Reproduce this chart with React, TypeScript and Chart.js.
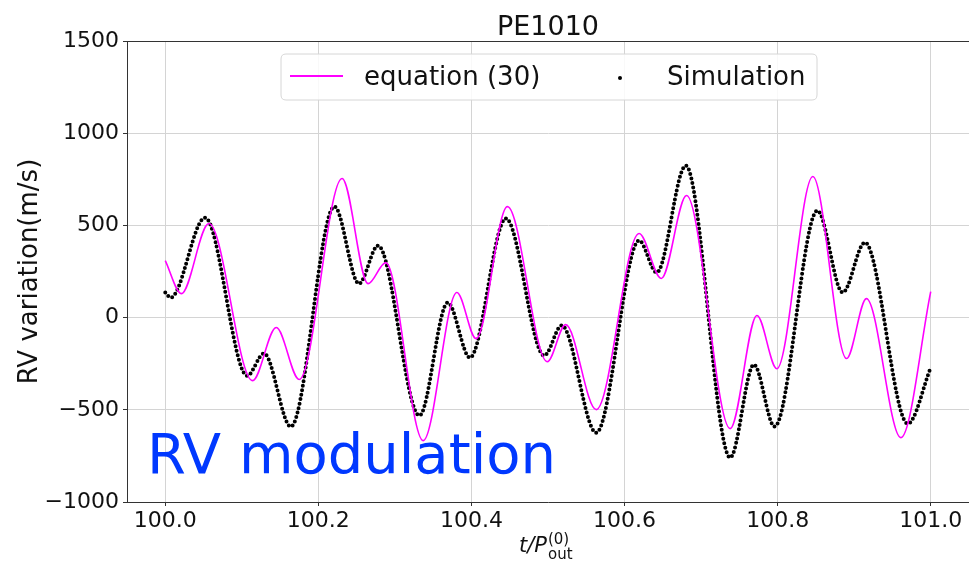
import React, { useEffect, useRef } from "react";
import { Chart, registerables } from "chart.js";

Chart.register(...registerables);

const TITLE = "PE1010";
const Y_LABEL = "RV variation(m/s)";
const OVERLAY_TEXT = "RV modulation";
const LEGEND_EQ = "equation (30)";
const LEGEND_SIM = "Simulation";

const xTicks = [100.0, 100.2, 100.4, 100.6, 100.8, 101.0];
const yTicks = [-1000, -500, 0, 500, 1000, 1500];

// Simulation (black dots): time in units of P_out, RV variation in m/s
const simT = [100.0, 100.007, 100.052, 100.107, 100.129, 100.164, 100.221, 100.253, 100.278, 100.332, 100.369, 100.398, 100.445, 100.495, 100.518, 100.563, 100.619, 100.642, 100.68, 100.738, 100.769, 100.796, 100.852, 100.885, 100.914, 100.97, 101.0];
const simRV = [136, 108, 542, -315, -195, -591, 602, 184, 390, -531, 81, -217, 537, -206, -43, -624, 418, 244, 824, -759, -255, -591, 580, 136, 407, -575, -271];

// Equation (30) (magenta line)
const eqT = [100.0, 100.021, 100.057, 100.114, 100.145, 100.175, 100.231, 100.265, 100.288, 100.337, 100.381, 100.406, 100.447, 100.499, 100.523, 100.563, 100.619, 100.648, 100.681, 100.738, 100.773, 100.799, 100.846, 100.89, 100.916, 100.961, 101.0];
const eqRV = [309, 130, 510, -342, -54, -336, 754, 184, 298, -667, 136, -114, 602, -239, -38, -499, 456, 212, 662, -602, 11, -277, 765, -222, 103, -651, 141];

const FONT = "'DejaVu Sans', sans-serif";

export default function App() {
  const ref = useRef<HTMLCanvasElement>(null);

  useEffect(() => {
    document.body.style.margin = "0";
    const canvas = ref.current!;
    const overlay = {
      id: "overlay",
      afterDraw(chart: any) {
        const ctx = chart.ctx as CanvasRenderingContext2D;
        const a = chart.chartArea;
        ctx.save();
        // top spine
        ctx.strokeStyle = "#333";
        ctx.lineWidth = 1;
        ctx.beginPath();
        ctx.moveTo(a.left, a.top + 0.5);
        ctx.lineTo(a.right, a.top + 0.5);
        ctx.stroke();

        // title
        ctx.fillStyle = "#111";
        ctx.font = `27px ${FONT}`;
        ctx.textAlign = "center";
        ctx.textBaseline = "alphabetic";
        ctx.fillText(TITLE, (a.left + a.right) / 2, 35);

        // y label
        ctx.save();
        ctx.translate(37, (a.top + a.bottom) / 2);
        ctx.rotate(-Math.PI / 2);
        ctx.font = `26px ${FONT}`;
        ctx.textAlign = "center";
        ctx.fillText(Y_LABEL, 0, 0);
        ctx.restore();

        // x label: t/P_out^(0)
        ctx.textAlign = "left";
        ctx.font = `italic 21px ${FONT}`;
        ctx.fillText("t/P", 519, 552);
        const w = ctx.measureText("t/P").width;
        ctx.font = `15px ${FONT}`;
        ctx.fillText("(0)", 519 + w + 1, 544);
        ctx.fillText("out", 519 + w + 1, 559);

        // legend
        const lx = 281, ly = 54, lw = 536, lh = 46, r = 5;
        ctx.beginPath();
        ctx.moveTo(lx + r, ly);
        ctx.lineTo(lx + lw - r, ly);
        ctx.quadraticCurveTo(lx + lw, ly, lx + lw, ly + r);
        ctx.lineTo(lx + lw, ly + lh - r);
        ctx.quadraticCurveTo(lx + lw, ly + lh, lx + lw - r, ly + lh);
        ctx.lineTo(lx + r, ly + lh);
        ctx.quadraticCurveTo(lx, ly + lh, lx, ly + lh - r);
        ctx.lineTo(lx, ly + r);
        ctx.quadraticCurveTo(lx, ly, lx + r, ly);
        ctx.closePath();
        ctx.fillStyle = "rgba(255,255,255,0.85)";
        ctx.fill();
        ctx.strokeStyle = "#d6d6d6";
        ctx.lineWidth = 1;
        ctx.stroke();

        ctx.strokeStyle = "#ff00ff";
        ctx.lineWidth = 2;
        ctx.beginPath();
        ctx.moveTo(290, 76);
        ctx.lineTo(343, 76);
        ctx.stroke();
        ctx.fillStyle = "#000";
        ctx.beginPath();
        ctx.arc(620, 78, 2, 0, Math.PI * 2);
        ctx.fill();
        ctx.font = `26px ${FONT}`;
        ctx.fillStyle = "#111";
        ctx.fillText(LEGEND_EQ, 364, 85);
        ctx.fillText(LEGEND_SIM, 667, 85);

        // overlay annotation
        ctx.font = `56px ${FONT}`;
        ctx.fillStyle = "#0038ff";
        ctx.fillText(OVERLAY_TEXT, 147, 473);
        ctx.restore();
      },
    };

    const chart = new Chart(canvas, {
      type: "line",
      data: {
        datasets: [
          {
            label: LEGEND_EQ,
            data: eqT.map((t, i) => ({ x: t, y: eqRV[i] })),
            borderColor: "#ff00ff",
            borderWidth: 1.6,
            pointRadius: 0,
            cubicInterpolationMode: "monotone",
            fill: false,
          },
          {
            label: LEGEND_SIM,
            data: simT.map((t, i) => ({ x: t, y: simRV[i] })),
            borderColor: "#000",
            borderWidth: 4,
            borderDash: [0, 4.6],
            borderCapStyle: "round",
            pointRadius: 0,
            cubicInterpolationMode: "monotone",
            fill: false,
          },
        ],
      },
      options: {
        responsive: false,
        animation: false,
        layout: { padding: { top: 41, right: 0, left: 0, bottom: 0 } },
        plugins: {
          legend: { display: false },
          tooltip: { enabled: false },
          title: { display: false },
        },
        scales: {
          x: {
            type: "linear",
            min: 99.95,
            max: 101.05,
            afterBuildTicks: (s: any) => {
              s.ticks = xTicks.map((v) => ({ value: v }));
            },
            afterFit: (s: any) => {
              s.height = 66;
            },
            ticks: {
              autoSkip: false,
              maxRotation: 0,
              padding: 2,
              color: "#111",
              font: { family: FONT, size: 22 },
              callback: (v: any) => Number(v).toFixed(1),
            },
            grid: { color: "#d4d4d4", lineWidth: 1, tickColor: "#333", tickLength: 4 },
            border: { color: "#333", width: 1 },
          },
          y: {
            type: "linear",
            min: -1000,
            max: 1500,
            afterBuildTicks: (s: any) => {
              s.ticks = yTicks.map((v) => ({ value: v }));
            },
            afterFit: (s: any) => {
              s.width = 127;
            },
            ticks: {
              padding: 4,
              color: "#111",
              font: { family: FONT, size: 22 },
              callback: (v: any) => (v < 0 ? "\u2212" + Math.abs(v) : String(v)),
            },
            grid: { color: "#d4d4d4", lineWidth: 1, tickColor: "#333", tickLength: 4 },
            border: { color: "#333", width: 1 },
          },
        },
      },
      plugins: [overlay],
    } as any);
    return () => chart.destroy();
  }, []);

  return (
    <div style={{ width: 969, height: 568 }}>
      <canvas ref={ref} width={969} height={568} style={{ display: "block" }} />
    </div>
  );
}
